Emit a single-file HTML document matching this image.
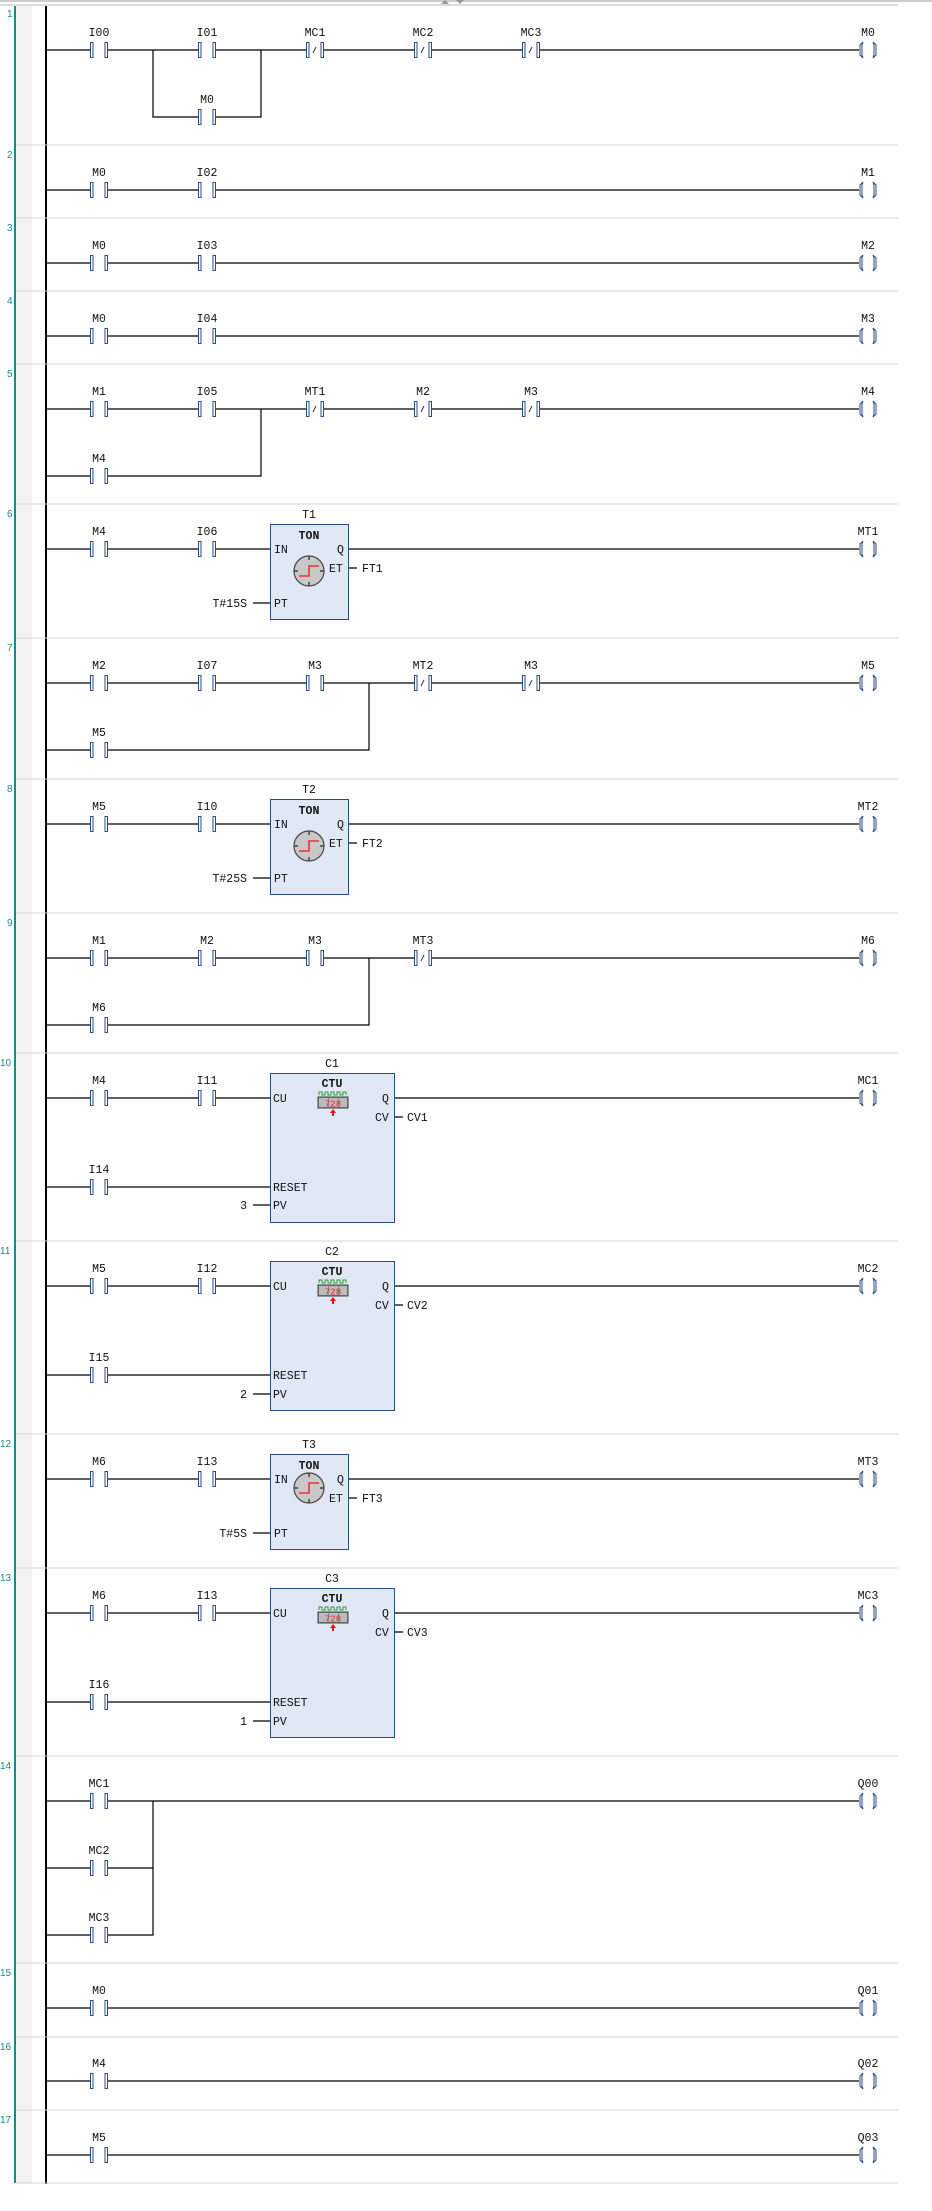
<!DOCTYPE html>
<html><head><meta charset="utf-8"><style>
html,body{margin:0;padding:0;background:#fff;}
svg{display:block;}
text{font-family:"Liberation Mono",monospace;font-size:11.5px;fill:#111;}
.n{font-family:"Liberation Sans",sans-serif;font-size:10px;fill:#1a8a8a;}
.b{font-weight:bold;}
</style></head><body>
<svg width="932" height="2211" viewBox="0 0 932 2211" xmlns="http://www.w3.org/2000/svg">
<defs>
<g id="no"><rect x="-9" y="-8" width="18" height="16" fill="#fff"/><rect x="-8.5" y="-7.5" width="2.5" height="15" fill="#fff" stroke="#2b4a86" stroke-width="1"/><rect x="6" y="-7.5" width="2.5" height="15" fill="#fff" stroke="#2b4a86" stroke-width="1"/></g>
<g id="nc"><use href="#no"/><line x1="-2" y1="3" x2="1" y2="-3" stroke="#333" stroke-width="1"/></g>
<g id="coil"><rect x="-9" y="-9" width="18" height="18" fill="#fff"/><path d="M-5,-8 L-8,-5 L-8,5 L-5,8 M-5,-8 L-6,-5 L-6,5 L-5,8" fill="none" stroke="#2b4a86" stroke-width="1"/><path d="M5,-8 L8,-5 L8,5 L5,8 M5,-8 L6,-5 L6,5 L5,8" fill="none" stroke="#2b4a86" stroke-width="1"/></g>
<g id="clock"><circle r="15" fill="#c8c8c8" stroke="#444" stroke-width="1.2"/><g stroke="#444" stroke-width="1.5"><line x1="0" y1="-15" x2="0" y2="-11"/><line x1="0" y1="15" x2="0" y2="11"/><line x1="-15" y1="0" x2="-11" y2="0"/><line x1="15" y1="0" x2="11" y2="0"/></g><path d="M-10,5 L0,5 L0,-5 L10,-5" fill="none" stroke="#e33" stroke-width="1.6"/></g>
<g id="ctu"><path d="M-14,-8 v-3 h3 v3 h3 v-3 h3 v3 h3 v-3 h3 v3 h3 v-3 h3 v3 h3 v-3 h3 v3" fill="none" stroke="#2a9a2a" stroke-width="1"/><rect x="-15" y="-6" width="30" height="11" fill="#888" stroke="#444"/><rect x="-14" y="-5" width="9" height="9" fill="#bbb"/><rect x="-4" y="-5" width="9" height="9" fill="#bbb"/><rect x="6" y="-5" width="8" height="9" fill="#bbb"/><text x="0" y="3.5" text-anchor="middle" style="font-size:9px;fill:#e22">728</text><path d="M0,6 L-3,10 L-1,10 L-1,13 L1,13 L1,10 L3,10 Z" fill="#e11"/></g>
</defs>

<!-- top bar -->
<line x1="0" y1="1" x2="932" y2="1" stroke="#999"/>
<line x1="0" y1="5" x2="898" y2="5" stroke="#bbb"/>
<path d="M441,4 L445,0 L449,4 Z M456,0 L464,0 L460,4 Z" fill="#999"/>

<!-- gutter -->
<rect x="16" y="6" width="16" height="2177" fill="#f3f3f3"/>
<line x1="15" y1="6" x2="15" y2="2183" stroke="#188a8a" stroke-width="2"/>
<line x1="46" y1="6" x2="46" y2="2184" stroke="#000" stroke-width="2"/>

<!-- separators -->
<g stroke="#d4d4d4" stroke-width="1">
<line x1="16" y1="145" x2="898" y2="145"/><line x1="16" y1="218" x2="898" y2="218"/><line x1="16" y1="291" x2="898" y2="291"/><line x1="16" y1="364" x2="898" y2="364"/><line x1="16" y1="504" x2="898" y2="504"/><line x1="16" y1="638" x2="898" y2="638"/><line x1="16" y1="779" x2="898" y2="779"/><line x1="16" y1="913" x2="898" y2="913"/><line x1="16" y1="1053" x2="898" y2="1053"/><line x1="16" y1="1241" x2="898" y2="1241"/><line x1="16" y1="1434" x2="898" y2="1434"/><line x1="16" y1="1568" x2="898" y2="1568"/><line x1="16" y1="1756" x2="898" y2="1756"/><line x1="16" y1="1963" x2="898" y2="1963"/><line x1="16" y1="2037" x2="898" y2="2037"/><line x1="16" y1="2110" x2="898" y2="2110"/><line x1="16" y1="2183" x2="898" y2="2183"/>
</g>

<!-- rung numbers -->
<text class="n" x="7" y="17">1</text><text class="n" x="7" y="158">2</text><text class="n" x="7" y="231">3</text><text class="n" x="7" y="304">4</text><text class="n" x="7" y="377">5</text><text class="n" x="7" y="517">6</text><text class="n" x="7" y="651">7</text><text class="n" x="7" y="792">8</text><text class="n" x="7" y="926">9</text><text class="n" x="0" y="1066">10</text><text class="n" x="0" y="1254">11</text><text class="n" x="0" y="1447">12</text><text class="n" x="0" y="1581">13</text><text class="n" x="0" y="1769">14</text><text class="n" x="0" y="1976">15</text><text class="n" x="0" y="2050">16</text><text class="n" x="0" y="2123">17</text>

<!-- wires -->
<g stroke="#000" stroke-width="1.2" fill="none">
<path d="M46,50 H859 M153,50 V117 H261 V50"/>
<path d="M46,190 H859 M46,263 H859 M46,336 H859"/>
<path d="M46,409 H859 M46,476 H261 V409"/>
<path d="M46,549 H270 M349,549 H859 M349,568 H357 M253,603 H270"/>
<path d="M46,683 H859 M46,750 H369 V683"/>
<path d="M46,824 H270 M349,824 H859 M349,843 H357 M253,878 H270"/>
<path d="M46,958 H859 M46,1025 H369 V958"/>
<path d="M46,1098 H270 M395,1098 H859 M395,1117 H403 M46,1187 H270 M253,1205 H270"/>
<path d="M46,1286 H270 M395,1286 H859 M395,1305 H403 M46,1375 H270 M253,1394 H270"/>
<path d="M46,1479 H270 M349,1479 H859 M349,1498 H357 M253,1533 H270"/>
<path d="M46,1613 H270 M395,1613 H859 M395,1632 H403 M46,1702 H270 M253,1721 H270"/>
<path d="M46,1801 H859 M46,1868 H153 M46,1935 H153 V1801"/>
<path d="M46,2008 H859 M46,2081 H859 M46,2155 H859"/>
</g>

<!-- rung 1 -->
<use href="#no" x="99" y="50"/><use href="#no" x="207" y="50"/><use href="#nc" x="315" y="50"/><use href="#nc" x="423" y="50"/><use href="#nc" x="531" y="50"/><use href="#no" x="207" y="117"/><use href="#coil" x="868" y="50"/>
<g text-anchor="middle"><text x="99" y="36">I00</text><text x="207" y="36">I01</text><text x="315" y="36">MC1</text><text x="423" y="36">MC2</text><text x="531" y="36">MC3</text><text x="207" y="103">M0</text><text x="868" y="36">M0</text></g>
<!-- rung 2-4 -->
<use href="#no" x="99" y="190"/><use href="#no" x="207" y="190"/><use href="#coil" x="868" y="190"/>
<use href="#no" x="99" y="263"/><use href="#no" x="207" y="263"/><use href="#coil" x="868" y="263"/>
<use href="#no" x="99" y="336"/><use href="#no" x="207" y="336"/><use href="#coil" x="868" y="336"/>
<g text-anchor="middle"><text x="99" y="176">M0</text><text x="207" y="176">I02</text><text x="868" y="176">M1</text>
<text x="99" y="249">M0</text><text x="207" y="249">I03</text><text x="868" y="249">M2</text>
<text x="99" y="322">M0</text><text x="207" y="322">I04</text><text x="868" y="322">M3</text></g>
<!-- rung 5 -->
<use href="#no" x="99" y="409"/><use href="#no" x="207" y="409"/><use href="#nc" x="315" y="409"/><use href="#nc" x="423" y="409"/><use href="#nc" x="531" y="409"/><use href="#no" x="99" y="476"/><use href="#coil" x="868" y="409"/>
<g text-anchor="middle"><text x="99" y="395">M1</text><text x="207" y="395">I05</text><text x="315" y="395">MT1</text><text x="423" y="395">M2</text><text x="531" y="395">M3</text><text x="99" y="462">M4</text><text x="868" y="395">M4</text></g>
<!-- rung 6 -->
<use href="#no" x="99" y="549"/><use href="#no" x="207" y="549"/><use href="#coil" x="868" y="549"/>
<rect x="270.5" y="524.5" width="78" height="95" fill="#e1e8f5" stroke="#2b4a86"/>
<use href="#clock" x="309" y="571"/>
<g text-anchor="middle"><text x="99" y="535">M4</text><text x="207" y="535">I06</text><text x="868" y="535">MT1</text><text x="309" y="518">T1</text><text class="b" x="309" y="539">TON</text></g>
<text x="274" y="553">IN</text><text x="337" y="553">Q</text><text x="329" y="572">ET</text><text x="362" y="572">FT1</text><text x="274" y="607">PT</text><text x="247" y="607" text-anchor="end">T#15S</text>
<!-- rung 7 -->
<use href="#no" x="99" y="683"/><use href="#no" x="207" y="683"/><use href="#no" x="315" y="683"/><use href="#nc" x="423" y="683"/><use href="#nc" x="531" y="683"/><use href="#no" x="99" y="750"/><use href="#coil" x="868" y="683"/>
<g text-anchor="middle"><text x="99" y="669">M2</text><text x="207" y="669">I07</text><text x="315" y="669">M3</text><text x="423" y="669">MT2</text><text x="531" y="669">M3</text><text x="99" y="736">M5</text><text x="868" y="669">M5</text></g>
<!-- rung 8 -->
<use href="#no" x="99" y="824"/><use href="#no" x="207" y="824"/><use href="#coil" x="868" y="824"/>
<rect x="270.5" y="799.5" width="78" height="95" fill="#e1e8f5" stroke="#2b4a86"/>
<use href="#clock" x="309" y="846"/>
<g text-anchor="middle"><text x="99" y="810">M5</text><text x="207" y="810">I10</text><text x="868" y="810">MT2</text><text x="309" y="793">T2</text><text class="b" x="309" y="814">TON</text></g>
<text x="274" y="828">IN</text><text x="337" y="828">Q</text><text x="329" y="847">ET</text><text x="362" y="847">FT2</text><text x="274" y="882">PT</text><text x="247" y="882" text-anchor="end">T#25S</text>
<!-- rung 9 -->
<use href="#no" x="99" y="958"/><use href="#no" x="207" y="958"/><use href="#no" x="315" y="958"/><use href="#nc" x="423" y="958"/><use href="#no" x="99" y="1025"/><use href="#coil" x="868" y="958"/>
<g text-anchor="middle"><text x="99" y="944">M1</text><text x="207" y="944">M2</text><text x="315" y="944">M3</text><text x="423" y="944">MT3</text><text x="99" y="1011">M6</text><text x="868" y="944">M6</text></g>
<!-- rung 10 -->
<use href="#no" x="99" y="1098"/><use href="#no" x="207" y="1098"/><use href="#no" x="99" y="1187"/><use href="#coil" x="868" y="1098"/>
<rect x="270.5" y="1073.5" width="124" height="149" fill="#e1e8f5" stroke="#2b4a86"/>
<use href="#ctu" x="333" y="1103"/>
<g text-anchor="middle"><text x="99" y="1084">M4</text><text x="207" y="1084">I11</text><text x="99" y="1173">I14</text><text x="868" y="1084">MC1</text><text x="332" y="1067">C1</text><text class="b" x="332" y="1087">CTU</text></g>
<text x="273" y="1102">CU</text><text x="382" y="1102">Q</text><text x="375" y="1121">CV</text><text x="407" y="1121">CV1</text><text x="273" y="1191">RESET</text><text x="273" y="1209">PV</text><text x="247" y="1209" text-anchor="end">3</text>
<!-- rung 11 -->
<use href="#no" x="99" y="1286"/><use href="#no" x="207" y="1286"/><use href="#no" x="99" y="1375"/><use href="#coil" x="868" y="1286"/>
<rect x="270.5" y="1261.5" width="124" height="149" fill="#e1e8f5" stroke="#2b4a86"/>
<use href="#ctu" x="333" y="1291"/>
<g text-anchor="middle"><text x="99" y="1272">M5</text><text x="207" y="1272">I12</text><text x="99" y="1361">I15</text><text x="868" y="1272">MC2</text><text x="332" y="1255">C2</text><text class="b" x="332" y="1275">CTU</text></g>
<text x="273" y="1290">CU</text><text x="382" y="1290">Q</text><text x="375" y="1309">CV</text><text x="407" y="1309">CV2</text><text x="273" y="1379">RESET</text><text x="273" y="1398">PV</text><text x="247" y="1398" text-anchor="end">2</text>
<!-- rung 12 -->
<use href="#no" x="99" y="1479"/><use href="#no" x="207" y="1479"/><use href="#coil" x="868" y="1479"/>
<rect x="270.5" y="1454.5" width="78" height="95" fill="#e1e8f5" stroke="#2b4a86"/>
<use href="#clock" x="309" y="1488"/>
<g text-anchor="middle"><text x="99" y="1465">M6</text><text x="207" y="1465">I13</text><text x="868" y="1465">MT3</text><text x="309" y="1448">T3</text><text class="b" x="309" y="1469">TON</text></g>
<text x="274" y="1483">IN</text><text x="337" y="1483">Q</text><text x="329" y="1502">ET</text><text x="362" y="1502">FT3</text><text x="274" y="1537">PT</text><text x="247" y="1537" text-anchor="end">T#5S</text>
<!-- rung 13 -->
<use href="#no" x="99" y="1613"/><use href="#no" x="207" y="1613"/><use href="#no" x="99" y="1702"/><use href="#coil" x="868" y="1613"/>
<rect x="270.5" y="1588.5" width="124" height="149" fill="#e1e8f5" stroke="#2b4a86"/>
<use href="#ctu" x="333" y="1618"/>
<g text-anchor="middle"><text x="99" y="1599">M6</text><text x="207" y="1599">I13</text><text x="99" y="1688">I16</text><text x="868" y="1599">MC3</text><text x="332" y="1582">C3</text><text class="b" x="332" y="1602">CTU</text></g>
<text x="273" y="1617">CU</text><text x="382" y="1617">Q</text><text x="375" y="1636">CV</text><text x="407" y="1636">CV3</text><text x="273" y="1706">RESET</text><text x="273" y="1725">PV</text><text x="247" y="1725" text-anchor="end">1</text>
<!-- rung 14 -->
<use href="#no" x="99" y="1801"/><use href="#no" x="99" y="1868"/><use href="#no" x="99" y="1935"/><use href="#coil" x="868" y="1801"/>
<g text-anchor="middle"><text x="99" y="1787">MC1</text><text x="99" y="1854">MC2</text><text x="99" y="1921">MC3</text><text x="868" y="1787">Q00</text></g>
<!-- rungs 15-17 -->
<use href="#no" x="99" y="2008"/><use href="#coil" x="868" y="2008"/>
<use href="#no" x="99" y="2081"/><use href="#coil" x="868" y="2081"/>
<use href="#no" x="99" y="2155"/><use href="#coil" x="868" y="2155"/>
<g text-anchor="middle"><text x="99" y="1994">M0</text><text x="868" y="1994">Q01</text><text x="99" y="2067">M4</text><text x="868" y="2067">Q02</text><text x="99" y="2141">M5</text><text x="868" y="2141">Q03</text></g>
</svg>
</body></html>
